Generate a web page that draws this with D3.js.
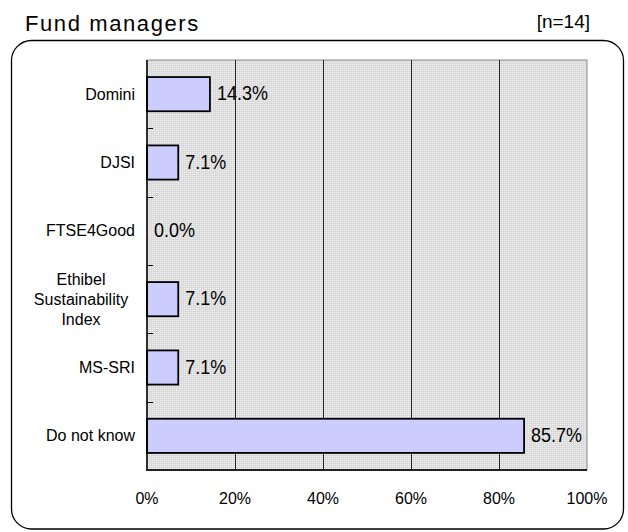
<!DOCTYPE html>
<html>
<head>
<meta charset="utf-8">
<script src="https://cdn.jsdelivr.net/npm/d3@7"></script>
<style>
  html, body { margin: 0; padding: 0; background: #fff; }
  svg { display: block; }
  text { font-family: "Liberation Sans", Arial, sans-serif; fill: #000; }
</style>
</head>
<body>
<svg id="chart" width="628" height="532"></svg>
<script>
const categories = ["Domini", "DJSI", "FTSE4Good", "Ethibel\nSustainability\nIndex", "MS-SRI", "Do not know"];
const values = [14.3, 7.1, 0.0, 7.1, 7.1, 85.7];
const xTicks = [0, 20, 40, 60, 80, 100];
const title = "Fund managers";
const sampleNote = "[n=14]";

const svg = d3.select("#chart");
const plot = { left: 147, right: 587, top: 60, bottom: 470 };

const defs = svg.append("defs");
const pat = defs.append("pattern").attr("id", "dots")
  .attr("width", 2).attr("height", 2).attr("patternUnits", "userSpaceOnUse");
pat.append("rect").attr("width", 2).attr("height", 2).attr("fill", "#d9d9d9");
pat.append("rect").attr("x", 0).attr("y", 0).attr("width", 1).attr("height", 1).attr("fill", "#f4f4f4");

// outer rounded frame
svg.append("rect")
  .attr("x", 11.5).attr("y", 40.5).attr("width", 612).attr("height", 488.5)
  .attr("rx", 20).attr("ry", 20)
  .attr("fill", "#fff").attr("stroke", "#000").attr("stroke-width", 1.3);

// title & n
svg.append("text").attr("x", 25).attr("y", 31)
  .attr("font-size", 22).style("letter-spacing", "1.6px").text(title);
svg.append("text").attr("x", 590).attr("y", 28).attr("text-anchor", "end")
  .attr("font-size", 19).text(sampleNote);

const x = d3.scaleLinear().domain([0, 100]).range([plot.left, plot.right]);
const y = d3.scaleBand().domain(categories).range([plot.top, plot.bottom]).paddingInner(0.5).paddingOuter(0.25);
const yb = d3.scaleBand().domain(categories).range([plot.top, plot.bottom]);

// plot background
svg.append("rect")
  .attr("x", plot.left).attr("y", plot.top)
  .attr("width", plot.right - plot.left).attr("height", plot.bottom - plot.top)
  .attr("fill", "url(#dots)").attr("stroke", "#888").attr("stroke-width", 1);

// gridlines
svg.append("g").selectAll("line").data(xTicks.slice(1, -1)).join("line")
  .attr("x1", d => Math.round(x(d)) + 0.5).attr("x2", d => Math.round(x(d)) + 0.5)
  .attr("y1", plot.top).attr("y2", plot.bottom)
  .attr("stroke", "#222").attr("stroke-width", 1);

// bars
svg.append("g").selectAll("rect").data(categories).join("rect")
  .attr("x", plot.left)
  .attr("y", d => y(d))
  .attr("width", (d, i) => x(values[i]) - x(0))
  .attr("height", y.bandwidth())
  .attr("fill", "#ccccff")
  .attr("stroke", "#000").attr("stroke-width", 1.8)
  .style("display", (d, i) => values[i] > 0 ? null : "none");

// value labels
svg.append("g").selectAll("text").data(categories).join("text")
  .attr("transform", (d, i) => `translate(${x(values[i]) + 7},${y(d) + y.bandwidth() / 2 + 6}) scale(1,1.15)`)
  .attr("font-size", 18)
  .text((d, i) => values[i].toFixed(1) + "%");

// axes lines
svg.append("line").attr("x1", plot.left).attr("x2", plot.left)
  .attr("y1", plot.top).attr("y2", plot.bottom + 1).attr("stroke", "#000").attr("stroke-width", 1.5);
svg.append("line").attr("x1", plot.left - 1).attr("x2", plot.right)
  .attr("y1", plot.bottom).attr("y2", plot.bottom).attr("stroke", "#222").attr("stroke-width", 2);

// y ticks at band boundaries (inward)
svg.append("g").selectAll("line").data(categories.slice(1)).join("line")
  .attr("x1", plot.left).attr("x2", plot.left + 6)
  .attr("y1", d => Math.round(yb(d)) + 0.5).attr("y2", d => Math.round(yb(d)) + 0.5)
  .attr("stroke", "#000").attr("stroke-width", 1);

// category labels
const catG = svg.append("g");
categories.forEach(c => {
  const lines = c.split("\n");
  const cy = yb(c) + yb.bandwidth() / 2;
  const lh = 20;
  const multi = lines.length > 1;
  const t = catG.append("text")
    .attr("font-size", 16)
    .attr("text-anchor", multi ? "middle" : "end");
  lines.forEach((ln, k) => {
    t.append("tspan")
      .attr("x", multi ? 81 : 135)
      .attr("y", cy + 5.5 + (k - (lines.length - 1) / 2) * lh)
      .text(ln);
  });
});

// x tick labels
svg.append("g").selectAll("text").data(xTicks).join("text")
  .attr("x", d => x(d)).attr("y", 504)
  .attr("text-anchor", "middle").attr("font-size", 16)
  .text(d => d + "%");
</script>
</body>
</html>
